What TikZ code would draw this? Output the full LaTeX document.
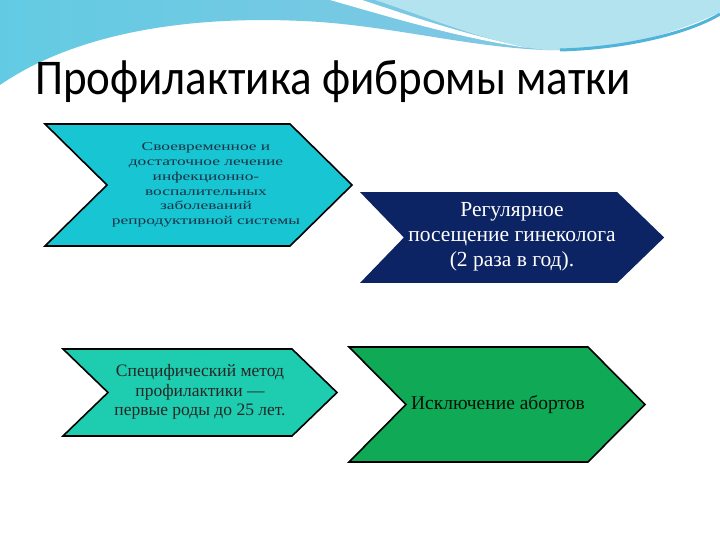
\documentclass[tikz,border=0pt]{standalone}
\usepackage{fontspec}
\setmainfont{Liberation Serif}
\newfontfamily\titlefont[FakeStretch=0.9]{Carlito}
\newfontfamily\widefont[FakeStretch=1.45]{Liberation Serif}
\usetikzlibrary{positioning}

\definecolor{wavecyan}{HTML}{62CBE3}
\definecolor{waveblue}{HTML}{8CC6E4}
\definecolor{wavepale}{HTML}{B2E3EF}
\definecolor{wavedeep}{HTML}{4FB3DA}
\definecolor{boxcyan}{HTML}{17C5D3}
\definecolor{boxnavy}{HTML}{0C2463}
\definecolor{boxteal}{HTML}{1ECDB0}
\definecolor{boxgreen}{HTML}{10A956}
\definecolor{inkdark}{HTML}{1B3346}

\begin{document}
\begin{tikzpicture}[x=1pt,y=-1pt,
  chev/.style={line width=1.6pt, line join=miter},
  lbl/.style={align=center, inner sep=0pt}]
\useasboundingbox (0,0) rectangle (720,540);

% wave at the top
\shade[left color=wavecyan, right color=waveblue]
  (0,0) -- (720,0) -- (720,12) .. controls (660,40) and (600,52) .. (545,50)
  .. controls (470,47) and (400,28) .. (320,22)
  .. controls (200,14) and (80,30) .. (0,85) -- cycle;
\fill[wavepale] (375,0) -- (720,0) -- (720,12) .. controls (660,40) and (600,52) .. (545,50)
  .. controls (490,44) and (430,18) .. (375,0) -- cycle;
\fill[white] (330,0) .. controls (400,20) and (460,38) .. (528,48)
  .. controls (455,32) and (405,14) .. (362,0) -- cycle;
\draw[wavedeep, line width=3pt] (560,50) .. controls (630,48) and (690,32) .. (720,14);

\node[anchor=base west, inner sep=0pt, font=\titlefont\fontsize{50}{58}\selectfont] (title)
  at (35,95) {Профилактика фибромы матки};

% chevrons
\foreach \fc/\dc/\xa/\xb/\xt/\xn/\ya/\yb in
  {boxcyan/black/45/290/352/107/124/246,
   boxnavy/boxnavy/362/617/663/405/193/282,
   boxteal/black/63/292/337/108/349/436,
   boxgreen/black/349/588/645/406/347/462}
  \draw[chev, fill=\fc, draw=\dc] (\xa,\ya) -- (\xb,\ya) -- (\xt,{(\ya+\yb)/2})
    -- (\xb,\yb) -- (\xa,\yb) -- (\xn,{(\ya+\yb)/2}) -- cycle;

\node[lbl, text=inkdark, font=\widefont\fontsize{12}{14.8}\selectfont] (treat) at (206,185)
  {Своевременное и\\достаточное лечение\\инфекционно-\\воспалительных\\заболеваний\\репродуктивной системы};
\node[lbl, text=white, font=\fontsize{21.5}{25}\selectfont] (visit) at (512,237)
  {Регулярное\\посещение гинеколога\\(2 раза в год).};
\node[lbl, text=black!85, font=\fontsize{17.5}{19.5}\selectfont] (method) at (200,392)
  {Специфический метод\\профилактики —\\первые роды до 25 лет.};
\node[lbl, text=black!90!boxgreen, font=\fontsize{19.5}{22}\selectfont] (abort) at (498,405)
  {Исключение абортов};
\end{tikzpicture}
\end{document}
